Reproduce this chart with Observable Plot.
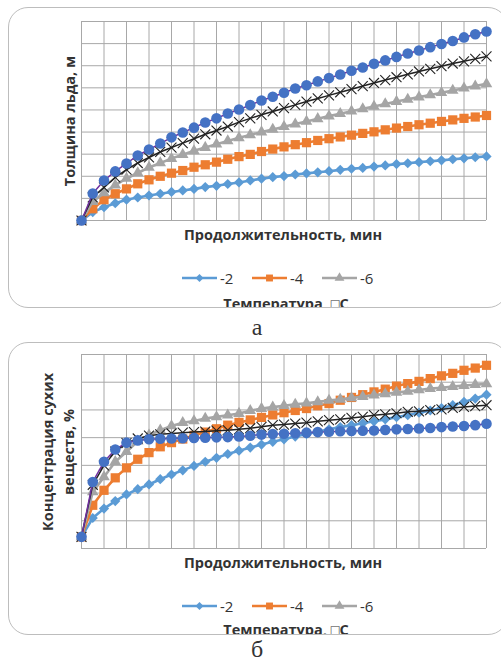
<!DOCTYPE html>
<html><head><meta charset="utf-8">
<script src="https://cdn.jsdelivr.net/npm/d3@7"></script>
<script src="https://cdn.jsdelivr.net/npm/@observablehq/plot@0.6"></script>
<style>
body{margin:0;background:#fff;}
#root{position:relative;width:501px;height:661px;overflow:hidden;font-family:"Open Sans",sans-serif;color:#333;}
.box{position:absolute;left:8px;width:500px;border:1px solid #bdbdbd;border-radius:20px;box-sizing:border-box;overflow:hidden;}
.abs{position:absolute;white-space:nowrap;}
.bold{font-weight:bold;font-size:14.5px;}
.ctr{transform:translateX(-50%);}
.ylab{transform:translate(-50%,-50%) rotate(-90deg);text-align:center;}
.leg{font-size:15px;line-height:16px;display:flex;align-items:center;}
.leg svg{margin-right:3px;}
.cap{font-family:"Liberation Serif",serif;font-size:24px;line-height:24px;}
.plotwrap{position:absolute;left:0;}
</style>
</head><body><div id="root"></div>
<script>
// x positions: duration index (no tick labels shown in the original)
const durations = [0,1,2,3,4,5,6,7,8,9,10,11,12,13,14,15,16,17,18,19,20,21,22,23,24,25,26,27,28,29,30,31,32,33,34,35,36];
const xGrid = [0,2,4,6,8,10,12,14,16,18,20,22,24,26,28,30,32,34,36];
const yGridTop = [0,1,2,3,4,5,6,7,8,9];
const yGridBot = [0,1,2,3,4,5,6,7];
const legendNames = ["-2","-4","-6"];

// Chart а: ice thickness
const topM2 = [0,0.38,0.6,0.78,0.94,1.04,1.13,1.21,1.29,1.36,1.43,1.51,1.57,1.65,1.72,1.81,1.89,1.96,2.01,2.08,2.13,2.18,2.23,2.29,2.34,2.38,2.44,2.49,2.55,2.59,2.64,2.68,2.72,2.77,2.81,2.86,2.9];
const topM4 = [0,0.53,0.94,1.21,1.43,1.66,1.84,2.0,2.14,2.26,2.41,2.52,2.64,2.77,2.89,2.99,3.12,3.23,3.33,3.43,3.52,3.62,3.7,3.78,3.86,3.94,4.01,4.1,4.18,4.25,4.33,4.4,4.48,4.55,4.62,4.68,4.75];
const topM6 = [0,0.85,1.25,1.6,1.9,2.15,2.4,2.6,2.8,2.98,3.15,3.3,3.45,3.6,3.74,3.87,4.0,4.12,4.24,4.36,4.48,4.6,4.72,4.83,4.94,5.05,5.16,5.27,5.38,5.48,5.58,5.68,5.78,5.88,5.98,6.08,6.18];
const topX  = [0,1.05,1.5,1.95,2.3,2.6,2.85,3.1,3.3,3.5,3.7,3.9,4.07,4.25,4.45,4.62,4.78,4.93,5.08,5.23,5.38,5.52,5.66,5.8,5.94,6.08,6.22,6.35,6.48,6.61,6.74,6.86,6.98,7.1,7.2,7.31,7.42];
const topC  = [0,1.22,1.81,2.22,2.58,2.94,3.21,3.48,3.76,3.98,4.2,4.43,4.62,4.84,5.02,5.22,5.43,5.6,5.78,5.97,6.12,6.29,6.44,6.6,6.77,6.92,7.09,7.24,7.4,7.55,7.69,7.84,7.98,8.12,8.28,8.42,8.55];

// Chart б: dry matter concentration
const botM2 = [0.42,1.1,1.44,1.71,1.95,2.14,2.31,2.5,2.67,2.82,2.98,3.13,3.27,3.41,3.53,3.64,3.75,3.85,3.94,4.04,4.13,4.21,4.3,4.38,4.45,4.52,4.59,4.66,4.74,4.81,4.9,4.98,5.07,5.17,5.29,5.41,5.55];
const botM4 = [0.42,1.56,2.1,2.55,2.91,3.22,3.46,3.67,3.82,3.95,4.08,4.2,4.32,4.45,4.55,4.64,4.73,4.82,4.9,4.98,5.05,5.15,5.23,5.35,5.45,5.55,5.65,5.75,5.86,5.95,6.03,6.13,6.23,6.32,6.43,6.51,6.61];
const botM6 = [0.42,2.04,2.58,3.13,3.49,3.87,4.09,4.27,4.42,4.54,4.6,4.69,4.75,4.81,4.87,4.97,5.05,5.1,5.15,5.2,5.24,5.29,5.34,5.38,5.43,5.48,5.53,5.58,5.63,5.67,5.72,5.77,5.8,5.84,5.88,5.91,5.94];
const botX  = [0.42,2.3,3.0,3.5,3.8,3.97,4.07,4.12,4.15,4.18,4.2,4.22,4.25,4.27,4.3,4.34,4.39,4.45,4.47,4.51,4.54,4.59,4.63,4.66,4.71,4.75,4.81,4.84,4.88,4.93,4.95,4.99,5.02,5.07,5.11,5.14,5.17];
const botC  = [0.42,2.4,3.13,3.57,3.82,3.9,3.94,3.96,3.97,3.98,3.99,4.0,4.01,4.02,4.04,4.07,4.11,4.13,4.14,4.16,4.18,4.2,4.21,4.23,4.24,4.25,4.26,4.28,4.3,4.31,4.33,4.35,4.38,4.4,4.42,4.45,4.5];

const styles = [
  {line:"#5B9BD5", sw:2.6, symbol:"diamond2", fill:"#5B9BD5", r:4.6, lsym:d3.symbolDiamond2, lsize:40},
  {line:"#ED7D31", sw:2.6, symbol:"square", fill:"#ED7D31", r:5.2, lsym:d3.symbolSquare, lsize:48},
  {line:"#A5A5A5", sw:2.6, symbol:"triangle", fill:"#A5A5A5", r:4.3, lsym:d3.symbolTriangle, lsize:42},
  {line:"#222222", sw:1.5, symbol:"times", stroke:"#222222", r:4.6},
  {line:"#7030A0", sw:1.5, symbol:"circle", fill:"#4472C4", r:5.3}
];

function chart(seriesVals, yDomain, yGrid, height, marginTop) {
  const marks = [
    Plot.gridX(xGrid, {stroke:"#a8a8a8", strokeOpacity:1, strokeWidth:1}),
    Plot.gridY(yGrid, {stroke:"#a8a8a8", strokeOpacity:1, strokeWidth:1})
  ];
  seriesVals.forEach((vals, k) => {
    const st = styles[k];
    const rows = durations.map((t, i) => ({t, v: vals[i]}));
    marks.push(Plot.line(rows, {x:"t", y:"v", stroke: st.line, strokeWidth: st.sw}));
    const dotOpts = {x:"t", y:"v", symbol: st.symbol, r: st.r};
    if (st.fill) { dotOpts.fill = st.fill; dotOpts.stroke = "none"; }
    else { dotOpts.stroke = st.stroke; dotOpts.strokeWidth = 1.1; dotOpts.fill = "none"; }
    marks.push(Plot.dot(rows, dotOpts));
  });
  return Plot.plot({
    width: 501, height, marginLeft: 81, marginRight: 15, marginTop, marginBottom: 5,
    x: {domain:[0,36], axis:null},
    y: {domain: yDomain, axis:null},
    style: {background:"transparent", overflow:"visible"},
    marks
  });
}

function legendSvg(st) {
  const ns = "http://www.w3.org/2000/svg";
  const svg = document.createElementNS(ns, "svg");
  svg.setAttribute("width", 35); svg.setAttribute("height", 14);
  const l = document.createElementNS(ns, "line");
  l.setAttribute("x1", 0); l.setAttribute("x2", 35); l.setAttribute("y1", 7); l.setAttribute("y2", 7);
  l.setAttribute("stroke", st.line); l.setAttribute("stroke-width", 2.5);
  svg.appendChild(l);
  const p = document.createElementNS(ns, "path");
  p.setAttribute("d", d3.symbol(st.lsym, st.lsize)());
  p.setAttribute("transform", "translate(17.5,7)");
  p.setAttribute("fill", st.fill);
  svg.appendChild(p);
  return svg;
}

const root = document.getElementById("root");
function el(cls, text, css) {
  const d = document.createElement("div");
  d.className = cls; if (text != null) d.textContent = text;
  Object.assign(d.style, css || {});
  return d;
}

function panel(opts) {
  const box = el("box", null, {top: opts.boxTop + "px", height: opts.boxH + "px"});
  root.appendChild(box);
  // legend title, clipped by the box edge (as in the original)
  box.appendChild(el("abs bold ctr", "Температура, \u25A1С", {left: (286 - 9) + "px", top: (opts.tempTop - opts.boxTop - 1) + "px"}));
  const wrap = el("plotwrap", null, {top: opts.svgTop + "px"});
  wrap.appendChild(chart(opts.series, opts.yDomain, opts.yGrid, opts.svgH, opts.marginTop));
  root.appendChild(wrap);
  root.appendChild(el("abs bold ctr", "Продолжительность, мин", {left: "283px", top: opts.xTitleTop + "px"}));
  const lefts = [182, 252, 322];
  legendNames.forEach((n, i) => {
    const e = el("abs leg", null, {left: lefts[i] + "px", top: (opts.legY - 8) + "px"});
    e.appendChild(legendSvg(styles[i]));
    e.appendChild(document.createTextNode(n));
    root.appendChild(e);
  });
  const yl = el("abs bold ylab", null, {left: opts.yLabX + "px", top: opts.yLabY + "px", lineHeight: "21px"});
  yl.innerHTML = opts.yLabel;
  root.appendChild(yl);
  root.appendChild(el("abs cap ctr", opts.cap, {left: "257px", top: opts.capTop + "px"}));
}

panel({boxTop: 7, boxH: 301, svgTop: 0, svgH: 225, marginTop: 21,
  series: [topM2, topM4, topM6, topX, topC], yDomain: [0,9], yGrid: yGridTop,
  xTitleTop: 225, legY: 278, tempTop: 294, yLabX: 69, yLabY: 121,
  yLabel: "Толщина льда, м", cap: "а", capTop: 315});

panel({boxTop: 342, boxH: 293, svgTop: 333, svgH: 220, marginTop: 21,
  series: [botM2, botM4, botM6, botX, botC], yDomain: [0,7], yGrid: yGridBot,
  xTitleTop: 553, legY: 606, tempTop: 620, yLabX: 58, yLabY: 452,
  yLabel: "Концентрация сухих<br>веществ, %", cap: "б", capTop: 637});
</script></body></html>
